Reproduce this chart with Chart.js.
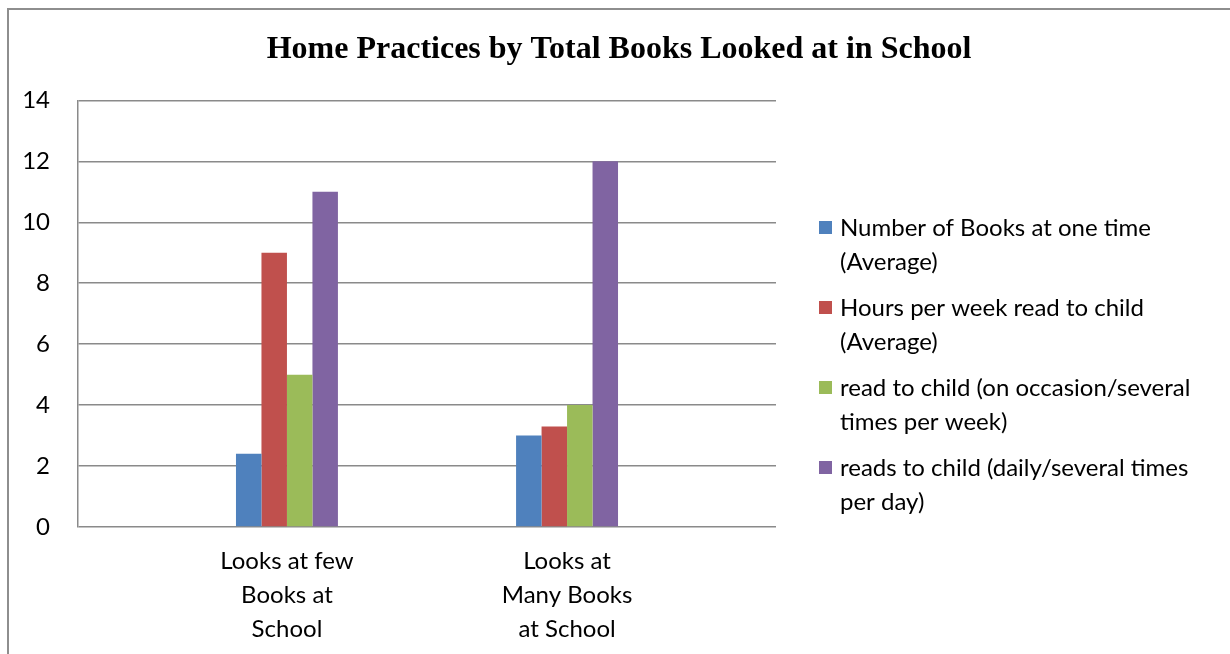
<!DOCTYPE html>
<html>
<head>
<meta charset="utf-8">
<script src="https://cdn.jsdelivr.net/npm/chart.js@4/dist/chart.umd.min.js"></script>
<style>
  html, body { margin: 0; padding: 0; background: #fff; overflow: hidden; }
  #wrap { position: relative; width: 1230px; height: 654px; overflow: hidden; }
  #frame { position: absolute; left: 7px; top: 8px; width: 1300px; height: 700px; border: 2px solid #8e8e8e; box-sizing: border-box; }
  canvas { position: absolute; left: 0; top: 0; }
</style>
</head>
<body>
<div id="wrap">
  <div id="frame"></div>
  <canvas id="c" width="1230" height="654"></canvas>
</div>
<script>
const title = 'Home Practices by Total Books Looked at in School';
const categories = [
  ['Looks at few', 'Books at', 'School'],
  ['Looks at', 'Many Books', 'at School']
];
const seriesNames = [
  'Number of Books at one time (Average)',
  'Hours per week read to child (Average)',
  'read to child (on occasion/several times per week)',
  'reads to child (daily/several times per day)'
];
const booksAtOneTime = [2.4, 3];
const hoursPerWeek = [9, 3.3];
const readOccasionally = [5, 4];
const readDaily = [11, 12];
const seriesColors = ['#4F81BD', '#C0504D', '#9BBB59', '#8064A2'];
const yTicks = [0, 2, 4, 6, 8, 10, 12, 14];

const seriesValues = [booksAtOneTime, hoursPerWeek, readOccasionally, readDaily];
const FONT = 'Lato';
const TXT = 24;

const datasets = seriesValues.map((vals, s) => ({
  label: seriesNames[s],
  data: vals.map((v, i) => ({ x: i, y: v })),
  backgroundColor: seriesColors[s],
  borderWidth: 0,
  categoryPercentage: 0.364,
  barPercentage: 1
}));

function wrapText(ctx, text, maxW) {
  const words = text.split(' ');
  const lines = [];
  let cur = '';
  for (const w of words) {
    const t = cur ? cur + ' ' + w : w;
    if (ctx.measureText(t).width > maxW && cur) { lines.push(cur); cur = w; }
    else cur = t;
  }
  if (cur) lines.push(cur);
  return lines;
}

const legendPlugin = {
  id: 'sideLegend',
  afterDraw(chart) {
    const ctx = chart.ctx;
    ctx.save();
    ctx.font = TXT + 'px ' + FONT;
    ctx.textBaseline = 'middle';
    ctx.textAlign = 'left';
    const lineH = 34, gap = 12;
    let y = 228;
    chart.data.datasets.forEach(ds => {
      const lines = wrapText(ctx, ds.label, 372);
      ctx.fillStyle = ds.backgroundColor;
      ctx.fillRect(819, y - 7, 13, 13);
      ctx.fillStyle = '#000';
      lines.forEach((ln, k) => ctx.fillText(ln, 840, y + k * lineH));
      y += lines.length * lineH + gap;
    });
    ctx.restore();
  }
};

new Chart(document.getElementById('c'), {
  type: 'bar',
  data: { datasets },
  plugins: [legendPlugin],
  options: {
    responsive: false,
    animation: false,
    layout: { padding: { left: 8, right: 0, top: 0, bottom: 0 } },
    plugins: {
      legend: { display: false },
      tooltip: { enabled: false },
      title: {
        display: true,
        text: title,
        color: '#000',
        font: { family: 'Liberation Serif', size: 32, weight: 'bold', lineHeight: 1.2 },
        padding: { top: 31, bottom: 31 }
      }
    },
    scales: {
      x: {
        type: 'linear',
        min: -0.746,
        max: 1.746,
        offset: false,
        afterBuildTicks: s => { s.ticks = categories.map((_, i) => ({ value: i })); },
        afterFit: s => { s.height = 127; },
        grid: { display: false },
        border: { display: false },
        ticks: {
          padding: 9,
          autoSkip: false,
          maxRotation: 0,
          color: '#000',
          font: { family: FONT, size: TXT, lineHeight: 34 / TXT },
          callback: v => categories[v] || ''
        }
      },
      y: {
        min: 0,
        max: 14,
        afterBuildTicks: s => { s.ticks = yTicks.map(v => ({ value: v })); },
        afterFit: s => { s.width = 70; },
        grid: { color: '#8a8a8a', lineWidth: 1.5, drawTicks: false },
        border: { display: true, color: '#8a8a8a', width: 1.5 },
        ticks: {
          padding: 28,
          color: '#000',
          font: { family: FONT, size: TXT }
        }
      },
      side: {
        type: 'linear',
        position: 'right',
        display: true,
        afterFit: s => { s.width = 454; },
        grid: { display: false },
        border: { display: false },
        ticks: { display: false }
      }
    }
  }
});
</script>
</body>
</html>
